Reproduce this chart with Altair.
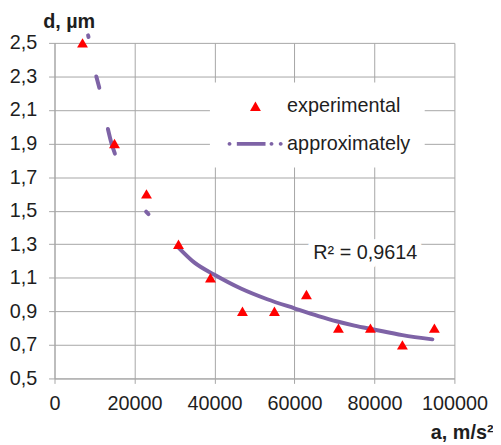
import altair as alt
import pandas as pd

# ---- data ----
A_EXP = [7000, 15000, 23000, 31000, 39000, 47000, 55000, 63000, 71000, 79000, 87000, 95000]
D_EXP = [2.5, 1.9, 1.6, 1.3, 1.1, 0.9, 0.9, 1.0, 0.8, 0.8, 0.7, 0.8]

# visible pieces of the approximating (power) curve
FIT_A = [8400, 8500,
         10450, 11200,
         13350, 14200, 15100,
         22900, 23500,
         31000, 35000, 40000, 46600, 53200, 60000, 66000, 70500, 75000, 79800, 87000, 94500]
FIT_D = [2.545, 2.535,
         2.30, 2.232,
         1.987, 1.905, 1.84,
         1.494, 1.479,
         1.28, 1.19, 1.118, 1.036, 0.972, 0.918, 0.872, 0.841, 0.815, 0.792, 0.758, 0.733]
FIT_PIECE = [0, 0, 1, 1, 2, 2, 2, 3, 3] + [4] * 12

SERIES = ["experimental", "approximately"]
X_TICKS = [0, 20000, 40000, 60000, 80000, 100000]
Y_TICKS = [0.5, 0.7, 0.9, 1.1, 1.3, 1.5, 1.7, 1.9, 2.1, 2.3, 2.5]
R2_LABEL = "R² = 0,9614"
R2_A = [77700]
R2_D = [1.214]

FONT = "Liberation Sans, Arial, sans-serif"
RED = "#FF0000"
PURPLE = "#7E63A6"
GRID = "#A6A6A6"
TXT = "#1E1E1E"

# legend symbol for the dash-dot line (filled path, unit ~ sqrt(size)/2)
LINE_SYMBOL = (
    "M-5.12,0A0.36,0.36,0,1,0,-4.4,0A0.36,0.36,0,1,0,-5.12,0Z"
    "M-3.42,-0.36L1.85,-0.36L1.85,0.36L-3.42,0.36Z"
    "M2.59,0A0.36,0.36,0,1,0,3.31,0A0.36,0.36,0,1,0,2.59,0Z"
    "M4.28,0A0.36,0.36,0,1,0,5.0,0A0.36,0.36,0,1,0,4.28,0Z"
)

exp_df = pd.DataFrame({"a": A_EXP, "d": D_EXP, "series": [SERIES[0]] * len(A_EXP)})
fit_df = pd.DataFrame({"a": FIT_A, "d": FIT_D, "piece": FIT_PIECE})
r2_df = pd.DataFrame({"a": R2_A, "d": R2_D, "t": [R2_LABEL]})

x_enc = alt.X(
    "a:Q",
    scale=alt.Scale(domain=[0, 100000], nice=False, zero=False),
    axis=alt.Axis(
        values=X_TICKS, format="d", tickSize=5, labelPadding=10,
        labelOverlap=False, labelFlush=False,
        title="a, m/s²", titleX=443, titleY=61, titleAlign="right",
        titleBaseline="alphabetic",
    ),
)
y_enc = alt.Y(
    "d:Q",
    scale=alt.Scale(domain=[0.5, 2.5], nice=False, zero=False),
    axis=alt.Axis(
        values=Y_TICKS, tickSize=6, labelPadding=12,
        labelOverlap=False, labelFlush=False,
        labelExpr="replace(format(datum.value, '.1f'), '.', ',')",
        title="d, µm", titleAngle=0, titleX=-12, titleY=-16,
        titleAlign="left", titleBaseline="alphabetic",
    ),
)

leg = alt.Legend(
    title=None, orient="none", legendX=157, legendY=40,
    fillColor="white", padding=14, symbolSize=121, symbolStrokeWidth=0,
    labelFontSize=20, labelFont=FONT, labelColor=TXT, labelOffset=22,
    symbolOffset=22, rowPadding=18, labelLimit=0, symbolOpacity=1,
)

line = alt.Chart(fit_df).mark_line(
    color=PURPLE, strokeWidth=4, strokeCap="round", strokeJoin="round",
    interpolate="monotone",
).encode(x=x_enc, y=y_enc, detail="piece:N")

points = alt.Chart(exp_df).mark_point(
    filled=True, size=121, opacity=1, strokeWidth=0
).encode(
    x=x_enc, y=y_enc,
    color=alt.Color("series:N", scale=alt.Scale(domain=SERIES, range=[RED, PURPLE]), legend=leg),
    shape=alt.Shape("series:N", scale=alt.Scale(domain=SERIES, range=["triangle-up", LINE_SYMBOL]), legend=leg),
)

halo = alt.Chart(r2_df).mark_text(
    font=FONT, fontSize=20, align="center", baseline="alphabetic",
    stroke="white", strokeWidth=13, strokeJoin="round", fill="white",
).encode(x=x_enc, y=y_enc, text="t:N")

label = alt.Chart(r2_df).mark_text(
    font=FONT, fontSize=20, align="center", baseline="alphabetic", color=TXT,
).encode(x=x_enc, y=y_enc, text="t:N")

chart = alt.layer(line, points, halo, label).properties(
    width=404, height=339,
    padding={"left": 47, "top": 33, "right": 39, "bottom": 65},
    autosize=alt.AutoSizeParams(type="none"),
).configure_view(stroke=None).configure_axis(
    grid=True, gridColor=GRID, gridWidth=1, domainColor=GRID, tickColor=GRID,
    labelFont=FONT, labelFontSize=20, labelColor=TXT,
    titleFont=FONT, titleFontSize=20, titleFontWeight="bold", titleColor=TXT,
)

chart.save("out.html", embed_options={"renderer": "svg", "actions": False})
